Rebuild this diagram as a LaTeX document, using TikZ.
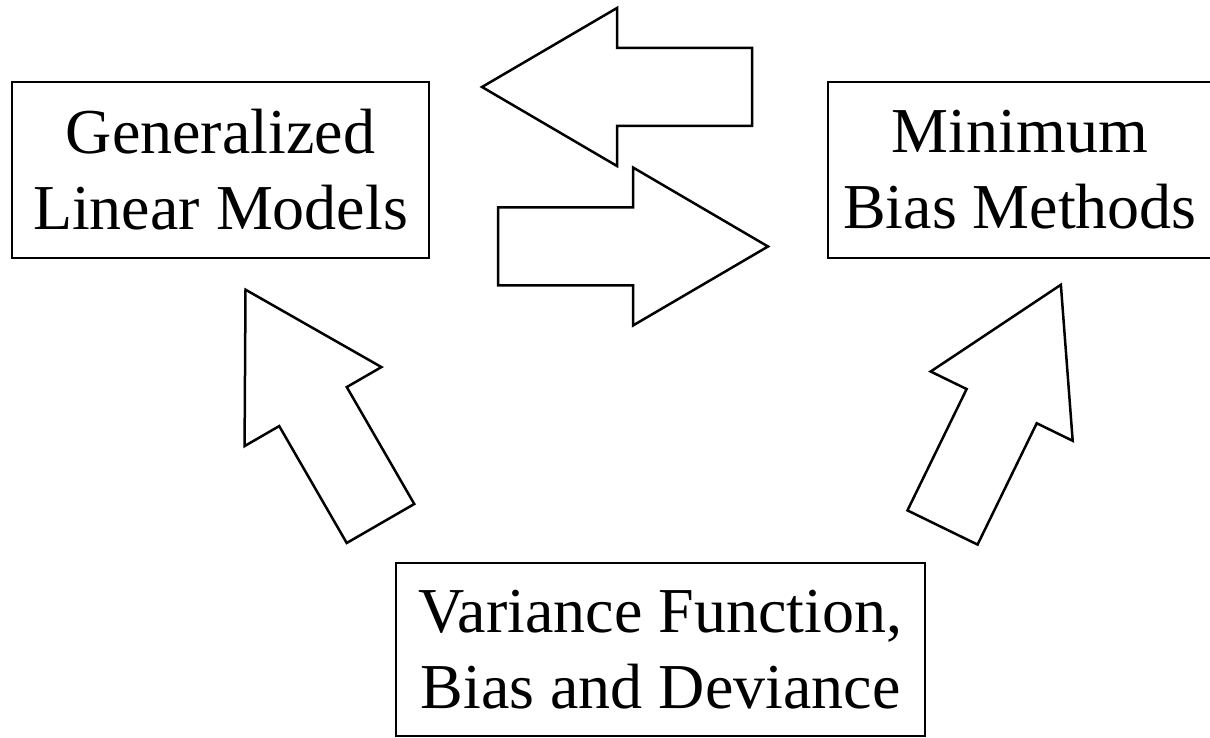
\documentclass[tikz,border=0pt]{standalone}
\usepackage{fontspec}
\setmainfont{Liberation Serif}
\usepackage{tikz}
\usepackage{xcolor}
\usetikzlibrary{positioning,calc}

\tikzset{
  topic/.style={rectangle, draw, line width=2.5pt, inner sep=0pt, align=center,
    font=\fontsize{64}{76}\selectfont},
  blockarrow/.pic={
    \draw[line width=2.5pt, line join=miter] (0,39) -- (135,39) -- (135,79) -- (270,0)
      -- (135,-79) -- (135,-39) -- (0,-39) -- cycle;
  }
}

\begin{document}
\begin{tikzpicture}[x=1pt, y=1pt]
\useasboundingbox (0,0) rectangle (1210,737);

\node[topic, minimum width=417, minimum height=176] (glm) at (220.5,567) {Generalized\\Linear Models};
\node[topic, minimum width=384, minimum height=176] (mbm) at (1020,567) {Minimum\\Bias Methods};
\node[topic, minimum width=529, minimum height=173] (var) at (660.5,87.5) {Variance Function,\\Bias and Deviance};

\pic[rotate=180] (back) at (752,650) {blockarrow};
\pic (forth) at (498,490.5) {blockarrow};
\pic[rotate=120] (upleft) at (380.5,213.5) {blockarrow};
\pic[rotate=64] (upright) at (942.5,209.5) {blockarrow};
\end{tikzpicture}
\end{document}
